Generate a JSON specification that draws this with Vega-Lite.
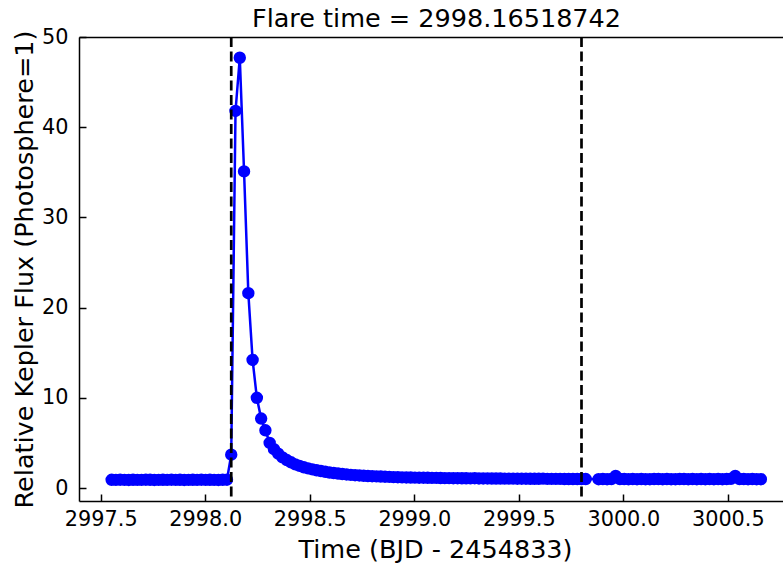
{
  "$schema": "https://vega.github.io/schema/vega-lite/v6.json",
  "autosize": {"type": "none"},
  "width": 704,
  "height": 464,
  "padding": {"left": 79, "top": 37, "right": 0, "bottom": 64},
  "background": "white",
  "config": {
    "view": {"stroke": null},
    "font": "DejaVu Sans",
    "axis": {
      "grid": false,
      "labelFont": "DejaVu Sans",
      "labelFontSize": 20.8,
      "labelColor": "black",
      "tickColor": "black",
      "tickSize": -7,
      "tickWidth": 1.5,
      "domainColor": "black",
      "domainWidth": 1.5,
      "titleFont": "DejaVu Sans",
      "titleFontSize": 25.5,
      "titleFontWeight": "normal",
      "titleColor": "black",
      "labelOverlap": false,
      "labelFlush": false
    }
  },
  "layer": [
    {
      "data": {
        "values": [
          {"t": 2997.5522, "f": 0.91}, {"t": 2997.5726, "f": 0.90}, {"t": 2997.5930, "f": 0.92}, {"t": 2997.6135, "f": 0.90},
          {"t": 2997.6339, "f": 0.89}, {"t": 2997.6544, "f": 0.91}, {"t": 2997.6748, "f": 0.90}, {"t": 2997.6952, "f": 0.90},
          {"t": 2997.7157, "f": 0.92}, {"t": 2997.7361, "f": 0.91}, {"t": 2997.7565, "f": 0.89}, {"t": 2997.7770, "f": 0.90},
          {"t": 2997.7974, "f": 0.91}, {"t": 2997.8178, "f": 0.90}, {"t": 2997.8383, "f": 0.92}, {"t": 2997.8587, "f": 0.90},
          {"t": 2997.8791, "f": 0.91}, {"t": 2997.8996, "f": 0.89}, {"t": 2997.9200, "f": 0.90}, {"t": 2997.9404, "f": 0.91},
          {"t": 2997.9609, "f": 0.90}, {"t": 2997.9813, "f": 0.92}, {"t": 2998.0017, "f": 0.90}, {"t": 2998.0222, "f": 0.91},
          {"t": 2998.0426, "f": 0.90}, {"t": 2998.0630, "f": 0.89}, {"t": 2998.0835, "f": 0.91}, {"t": 2998.1039, "f": 0.92},
          {"t": 2998.1243, "f": 3.7}, {"t": 2998.1448, "f": 41.8}, {"t": 2998.1652, "f": 47.7},
          {"t": 2998.1856, "f": 35.1}, {"t": 2998.2061, "f": 21.6}, {"t": 2998.2265, "f": 14.2}, {"t": 2998.2469, "f": 10.0},
          {"t": 2998.2674, "f": 7.7}, {"t": 2998.2878, "f": 6.4}, {"t": 2998.3082, "f": 5.0}, {"t": 2998.3287, "f": 4.3},
          {"t": 2998.3491, "f": 3.8}, {"t": 2998.3695, "f": 3.4}, {"t": 2998.3900, "f": 3.1}, {"t": 2998.4104, "f": 2.85},
          {"t": 2998.4308, "f": 2.62}, {"t": 2998.4513, "f": 2.45}, {"t": 2998.4717, "f": 2.3}, {"t": 2998.4921, "f": 2.18},
          {"t": 2998.5126, "f": 2.07}, {"t": 2998.5330, "f": 1.97}, {"t": 2998.5534, "f": 1.88}, {"t": 2998.5739, "f": 1.8},
          {"t": 2998.5943, "f": 1.72}, {"t": 2998.6147, "f": 1.66}, {"t": 2998.6352, "f": 1.6}, {"t": 2998.6556, "f": 1.55},
          {"t": 2998.6761, "f": 1.5}, {"t": 2998.6965, "f": 1.46}, {"t": 2998.7169, "f": 1.42}, {"t": 2998.7374, "f": 1.39},
          {"t": 2998.7578, "f": 1.36}, {"t": 2998.7782, "f": 1.33}, {"t": 2998.7987, "f": 1.31}, {"t": 2998.8191, "f": 1.29},
          {"t": 2998.8395, "f": 1.27}, {"t": 2998.8600, "f": 1.25}, {"t": 2998.8804, "f": 1.23}, {"t": 2998.9008, "f": 1.21},
          {"t": 2998.9213, "f": 1.2}, {"t": 2998.9417, "f": 1.18}, {"t": 2998.9621, "f": 1.17}, {"t": 2998.9826, "f": 1.16},
          {"t": 2999.0030, "f": 1.15}, {"t": 2999.0234, "f": 1.14}, {"t": 2999.0439, "f": 1.14}, {"t": 2999.0643, "f": 1.13},
          {"t": 2999.0847, "f": 1.12}, {"t": 2999.1052, "f": 1.12}, {"t": 2999.1256, "f": 1.11}, {"t": 2999.1460, "f": 1.1},
          {"t": 2999.1665, "f": 1.1}, {"t": 2999.1869, "f": 1.09}, {"t": 2999.2073, "f": 1.09}, {"t": 2999.2278, "f": 1.08},
          {"t": 2999.2482, "f": 1.08}, {"t": 2999.2686, "f": 1.07}, {"t": 2999.2891, "f": 1.09}, {"t": 2999.3095, "f": 1.06},
          {"t": 2999.3299, "f": 1.06}, {"t": 2999.3504, "f": 1.06}, {"t": 2999.3708, "f": 1.05}, {"t": 2999.3912, "f": 1.05},
          {"t": 2999.4117, "f": 1.05}, {"t": 2999.4321, "f": 1.04}, {"t": 2999.4525, "f": 1.04}, {"t": 2999.4730, "f": 1.04},
          {"t": 2999.4934, "f": 1.03}, {"t": 2999.5138, "f": 1.03}, {"t": 2999.5343, "f": 1.03}, {"t": 2999.5547, "f": 1.02},
          {"t": 2999.5751, "f": 1.02}, {"t": 2999.5956, "f": 1.02}, {"t": 2999.6160, "f": 1.04}, {"t": 2999.6364, "f": 1.01},
          {"t": 2999.6569, "f": 1.01}, {"t": 2999.6773, "f": 1.01}, {"t": 2999.6977, "f": 1.01}, {"t": 2999.7182, "f": 1.0},
          {"t": 2999.7386, "f": 1.0}, {"t": 2999.7590, "f": 1.0}, {"t": 2999.7795, "f": 1.0}, {"t": 2999.7999, "f": 0.99},
          {"t": 2999.8203, "f": 0.99},
          {"t": 2999.8817, "f": 0.98}, {"t": 2999.9021, "f": 0.99}, {"t": 2999.9225, "f": 0.98}, {"t": 2999.9430, "f": 1.0},
          {"t": 2999.9634, "f": 1.35}, {"t": 2999.9838, "f": 1.0}, {"t": 3000.0043, "f": 0.99}, {"t": 3000.0247, "f": 0.98},
          {"t": 3000.0451, "f": 0.99}, {"t": 3000.0656, "f": 0.98}, {"t": 3000.0860, "f": 0.99}, {"t": 3000.1064, "f": 0.98},
          {"t": 3000.1269, "f": 0.98}, {"t": 3000.1473, "f": 0.99}, {"t": 3000.1677, "f": 1.0}, {"t": 3000.1882, "f": 0.98},
          {"t": 3000.2086, "f": 0.99}, {"t": 3000.2290, "f": 0.98}, {"t": 3000.2495, "f": 0.98}, {"t": 3000.2699, "f": 0.99},
          {"t": 3000.2903, "f": 1.0}, {"t": 3000.3108, "f": 0.98}, {"t": 3000.3312, "f": 0.99}, {"t": 3000.3516, "f": 0.98},
          {"t": 3000.3721, "f": 0.99}, {"t": 3000.3925, "f": 0.98}, {"t": 3000.4129, "f": 1.0}, {"t": 3000.4334, "f": 0.98},
          {"t": 3000.4538, "f": 0.99}, {"t": 3000.4742, "f": 0.98}, {"t": 3000.4947, "f": 0.99}, {"t": 3000.5151, "f": 1.02},
          {"t": 3000.5355, "f": 1.35}, {"t": 3000.5560, "f": 1.0}, {"t": 3000.5764, "f": 0.99}, {"t": 3000.5968, "f": 0.98},
          {"t": 3000.6173, "f": 0.99}, {"t": 3000.6377, "f": 0.98}, {"t": 3000.6581, "f": 0.98}
        ]
      },
      "mark": {
        "type": "line",
        "color": "#0000ff",
        "strokeWidth": 2.5,
        "point": {"filled": true, "size": 154, "color": "#0000ff", "opacity": 1}
      },
      "encoding": {
        "x": {
          "field": "t",
          "type": "quantitative",
          "scale": {"domain": [2997.396, 3000.764], "nice": false, "zero": false},
          "axis": {
            "orient": "bottom",
            "values": [2997.5, 2998.0, 2998.5, 2999.0, 2999.5, 3000.0, 3000.5],
            "format": ".1f",
            "labelPadding": 15,
            "title": "Time (BJD - 2454833)",
            "titleX": 356,
            "titleY": 56,
            "titleBaseline": "alphabetic"
          }
        },
        "y": {
          "field": "f",
          "type": "quantitative",
          "scale": {"domain": [-1.44, 50], "nice": false, "zero": false},
          "axis": {
            "values": [0, 10, 20, 30, 40, 50],
            "labelPadding": 18,
            "title": "Relative Kepler Flux (Photosphere=1)",
            "titleX": -47,
            "titleBaseline": "alphabetic"
          }
        }
      }
    },
    {
      "data": {"values": [{"t": 2998.1243}, {"t": 2999.8}]},
      "mark": {"type": "rule", "color": "black", "strokeWidth": 2.7, "strokeDash": [10, 4.5]},
      "encoding": {
        "x": {
          "field": "t",
          "type": "quantitative",
          "axis": {
            "orient": "top",
            "labels": false,
            "ticks": false,
            "domain": true,
            "grid": false,
            "title": "Flare time = 2998.16518742",
            "titleX": 357,
            "titleY": -11,
            "titleBaseline": "alphabetic",
            "titleAlign": "center"
          }
        }
      }
    }
  ],
  "resolve": {"axis": {"x": "independent"}}
}
